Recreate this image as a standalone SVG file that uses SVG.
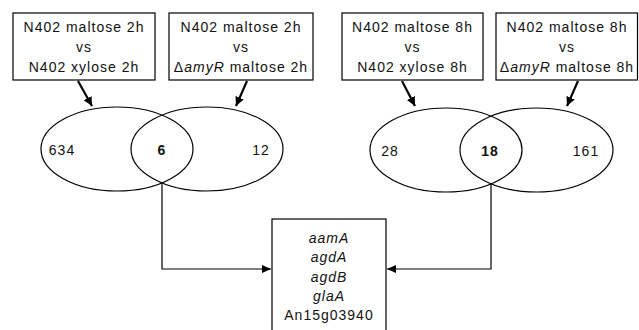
<svg xmlns="http://www.w3.org/2000/svg" width="639" height="330" viewBox="0 0 639 330">
<defs>
<marker id="ah" markerUnits="userSpaceOnUse" markerWidth="10" markerHeight="8" refX="9" refY="4" orient="auto">
<path d="M0,0 L9,4 L0,8 z" fill="#000"/>
</marker>
<marker id="ah2" markerUnits="userSpaceOnUse" markerWidth="10" markerHeight="10" refX="9" refY="4.5" orient="auto">
<path d="M0,0 L9,4.5 L0,9 z" fill="#000"/>
</marker>
<style>
text{font-family:"Liberation Sans",Arial,sans-serif;font-size:14px;letter-spacing:1px;fill:#111;text-anchor:middle}
.box{fill:#fff;stroke:#000;stroke-width:1.2}
.ell{fill:none;stroke:#000;stroke-width:1.2}
.thick{stroke:#000;stroke-width:2.2;fill:none}
.thin{stroke:#000;stroke-width:1.2;fill:none}
.i{font-style:italic}
.b{font-weight:bold}
</style>
</defs>
<g id="box1">
<rect class="box" x="13" y="13" width="142" height="67"/>
<text x="84" y="32">N402 maltose 2h</text>
<text x="84" y="52">vs</text>
<text x="84" y="72">N402 xylose 2h</text>
</g>
<g id="box2">
<rect class="box" x="169" y="13" width="144" height="67"/>
<text x="241" y="32">N402 maltose 2h</text>
<text x="241" y="52">vs</text>
<text x="241" y="72">Δ<tspan class="i">amyR</tspan> maltose 2h</text>
</g>
<g id="box3">
<rect class="box" x="342" y="13" width="141" height="67"/>
<text x="412.5" y="32">N402 maltose 8h</text>
<text x="412.5" y="52">vs</text>
<text x="412.5" y="72">N402 xylose 8h</text>
</g>
<g id="box4">
<rect class="box" x="496" y="13" width="141.5" height="67"/>
<text x="567" y="32">N402 maltose 8h</text>
<text x="567" y="52">vs</text>
<text x="567" y="72">Δ<tspan class="i">amyR</tspan> maltose 8h</text>
</g>
<g id="venn2h">
<ellipse class="ell" cx="117" cy="149" rx="76" ry="42"/>
<ellipse class="ell" cx="207" cy="149" rx="76" ry="42"/>
<text x="62" y="155">634</text>
<text x="162" y="155" class="b">6</text>
<text x="261" y="155">12</text>
</g>
<g id="venn8h">
<ellipse class="ell" cx="446" cy="150" rx="76" ry="42"/>
<ellipse class="ell" cx="536.5" cy="150" rx="76.5" ry="42"/>
<text x="390" y="156">28</text>
<text x="490" y="156" class="b">18</text>
<text x="586" y="156">161</text>
</g>
<g id="genes">
<rect class="box" x="272" y="219" width="114" height="130"/>
<text x="329" y="243" class="i">aamA</text>
<text x="329" y="262" class="i">agdA</text>
<text x="329" y="282" class="i">agdB</text>
<text x="329" y="301" class="i">glaA</text>
<text x="329" y="320">An15g03940</text>
</g>
<g id="connectors">
<line class="thick" x1="78" y1="81" x2="92" y2="106" marker-end="url(#ah2)"/>
<line class="thick" x1="247" y1="81" x2="236" y2="106" marker-end="url(#ah2)"/>
<line class="thick" x1="402" y1="81" x2="415" y2="106" marker-end="url(#ah2)"/>
<line class="thick" x1="578" y1="81" x2="567" y2="106" marker-end="url(#ah2)"/>
<polyline class="thin" points="162,183 162,269 271,269" marker-end="url(#ah)"/>
<polyline class="thin" points="491,184 491,269 387,269" marker-end="url(#ah)"/>
</g>
</svg>
